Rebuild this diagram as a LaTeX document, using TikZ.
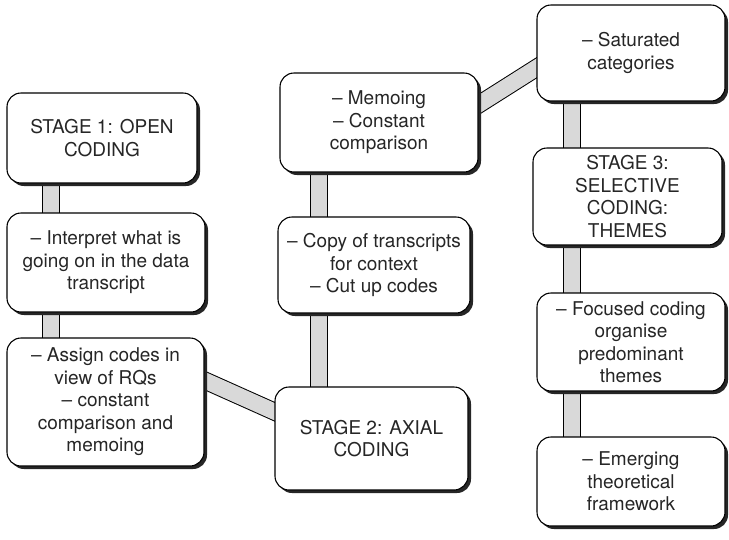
\documentclass[tikz,border=0pt]{standalone}
\usepackage{fontspec}
\setmainfont{TeX Gyre Heros}
\usetikzlibrary{shadows}
\pgfdeclarelayer{bg}
\pgfsetlayers{bg,main}
\definecolor{bandgrey}{HTML}{D9D9D9}
\definecolor{txt}{HTML}{262626}
\tikzset{
  box/.style={draw=black, line width=1.1pt, fill=white, rounded corners=14pt,
    align=center, inner sep=0pt, text=txt,
    font=\fontsize{19}{22.5}\selectfont,
    drop shadow={shadow xshift=3pt, shadow yshift=-3pt, fill=black!85, opacity=1}},
  band/.style={line width=1pt, draw=black, double=bandgrey, double distance=16pt},
}
\begin{document}
\begin{tikzpicture}[x=1pt,y=-1pt]
\useasboundingbox (0,0) rectangle (729,539);
% left column
\node[box, minimum width=190pt, minimum height=90pt] (A) at (102,138) {STAGE 1: OPEN\\CODING};
\node[box, minimum width=198pt, minimum height=99pt] (B) at (106,262.5) {-- Interpret what is\\going on in the data\\transcript};
\node[box, minimum width=197pt, minimum height=128pt] (C) at (105.5,402) {-- Assign codes in\\view of RQs\\-- constant\\comparison and\\memoing};
% middle column
\node[box, minimum width=193pt, minimum height=103pt] (D) at (371.5,438.5) {STAGE 2: AXIAL\\CODING};
\node[box, minimum width=192pt, minimum height=96pt] (E) at (374,265) {-- Copy of transcripts\\for context\\-- Cut up codes};
\node[box, minimum width=198pt, minimum height=99pt] (F) at (379,122.5) {-- Memoing\\-- Constant\\comparison};
% right column
\node[box, minimum width=188pt, minimum height=96pt] (G) at (631,53) {-- Saturated\\categories};
\node[box, minimum width=189pt, minimum height=97pt] (H) at (627.5,196.5) {STAGE 3:\\SELECTIVE\\CODING:\\THEMES};
\node[box, minimum width=188pt, minimum height=98pt] (I) at (631,342) {-- Focused coding\\organise\\predominant\\themes};
\node[box, minimum width=188pt, minimum height=89pt] (J) at (631,481.5) {-- Emerging\\theoretical\\framework};
% connector guide coordinates
\coordinate (xL) at (50.5,0);
\coordinate (xM) at (318.5,0);
\coordinate (xR) at (571.5,0);
\coordinate (cd1) at (150,356);
\coordinate (cd2) at (330,436.5);
\coordinate (fg1) at (440,129);
\coordinate (fg2) at (580,40.3);
\begin{pgfonlayer}{bg}
  \draw[band] (A.center -| xL) -- (B.center -| xL);
  \draw[band] (B.center -| xL) -- (C.center -| xL);
  \draw[band] (cd1) -- (cd2);
  \draw[band] (F.center -| xM) -- (E.center -| xM);
  \draw[band] (E.center -| xM) -- (D.center -| xM);
  \draw[band] (fg1) -- (fg2);
  \draw[band] (G.center -| xR) -- (H.center -| xR);
  \draw[band] (H.center -| xR) -- (I.center -| xR);
  \draw[band] (I.center -| xR) -- (J.center -| xR);
\end{pgfonlayer}
\end{tikzpicture}
\end{document}
